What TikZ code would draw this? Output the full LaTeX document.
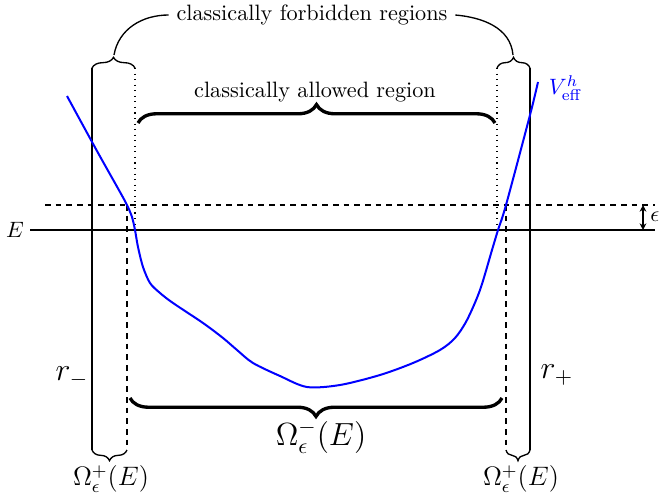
\documentclass[tikz,border=0pt]{standalone}
\usetikzlibrary{decorations.pathreplacing,arrows.meta}
\begin{document}
\begin{tikzpicture}[x=0.45pt,y=-0.45pt,
  thinline/.style={line width=0.6pt},
  dashline/.style={line width=0.6pt,dash pattern=on 2.6pt off 2.2pt},
  dotline/.style={line width=0.5pt,dotted},
  smallbrace/.style={line width=0.6pt,decorate,decoration={brace,amplitude=4.8pt}},
  bigbrace/.style={line width=1.5pt,decorate,decoration={brace,amplitude=8.3pt}},
  potential/.style={blue,line width=0.9pt}]
\useasboundingbox (0,0) rectangle (665,499);
% coordinates
\coordinate (Lt) at (92,68); \coordinate (Lb) at (92,450);
\coordinate (Rt) at (530,68); \coordinate (Rb) at (530,450);
\coordinate (ldt) at (135,68); \coordinate (ldb) at (135,230);
\coordinate (rdt) at (497,68); \coordinate (rdb) at (497,230);
\coordinate (lst) at (127,205); \coordinate (lsb) at (127,450);
\coordinate (rst) at (506,205); \coordinate (rsb) at (506,450);
\coordinate (Ea) at (30,230); \coordinate (Eb) at (655,230);
\coordinate (ea) at (45,205); \coordinate (eb) at (655,205);
\coordinate (epst) at (643,205); \coordinate (epsb) at (643,230);
% vertical lines
\draw[thinline] (Lt) -- (Lb);
\draw[thinline] (Rt) -- (Rb);
\draw[dotline] (ldt) -- (ldb);
\draw[dotline] (rdt) -- (rdb);
\draw[dashline] (lst) -- (lsb);
\draw[dashline] (rst) -- (rsb);
% horizontal lines
\draw[thinline] (Ea) -- (Eb);
\draw[dashline] (ea) -- (eb);
\node (E) at (15,230) {$E$};
\draw[thinline,{Stealth[length=3pt,width=3pt]}-{Stealth[length=3pt,width=3pt]}] (epst) -- (epsb);
\node (eps) at (655,217) {$\epsilon$};
% braces top
\draw[smallbrace] (Lt) -- (ldt);
\draw[smallbrace] (rdt) -- (Rt);
\node (forb) at (312,15) {classically forbidden regions};
\coordinate (ltip) at (114,55);
\coordinate (rtip) at (513,55);
\draw[thinline] (ltip) to[out=80,in=180] (forb.west);
\draw[thinline] (forb.east) to[out=-5,in=95] (rtip);
% allowed brace
\draw[bigbrace] (138,123) -- (495,123);
\node (allowed) at (315,92) {classically allowed region};
% bottom braces
\draw[bigbrace] (502,398) -- (130,398);
\node (omm) at (321,437) {\Large $\Omega^-_\epsilon(E)$};
\draw[smallbrace] (lsb) -- (Lb);
\draw[smallbrace] (Rb) -- (rsb);
\node (ompl) at (111,479) {\large $\Omega^+_\epsilon(E)$};
\node (ompr) at (521,479) {\large $\Omega^+_\epsilon(E)$};
% radii
\node (rm) at (72,377) {\Large $r_-$};
\node (rp) at (557,375) {\Large $r_+$};
% potential
\draw[potential] plot[smooth,tension=0.5] coordinates {
 (67,96) (97,151) (120,192) (127,205) (132,217) (135,230) (138,247)
 (143,267) (150,283) (160,293) (173,303) (203,323) (223,338) (237,350)
 (253,363) (280,376) (307,387) (340,385) (380,375) (413,363) (440,350)
 (455,338) (467,320) (480,290) (492,250) (498,230) (506,205) (530,115) (538,82)};
\node[blue,anchor=west] (V) at (541,88) {$V^h_{\mathrm{eff}}$};
\end{tikzpicture}
\end{document}
